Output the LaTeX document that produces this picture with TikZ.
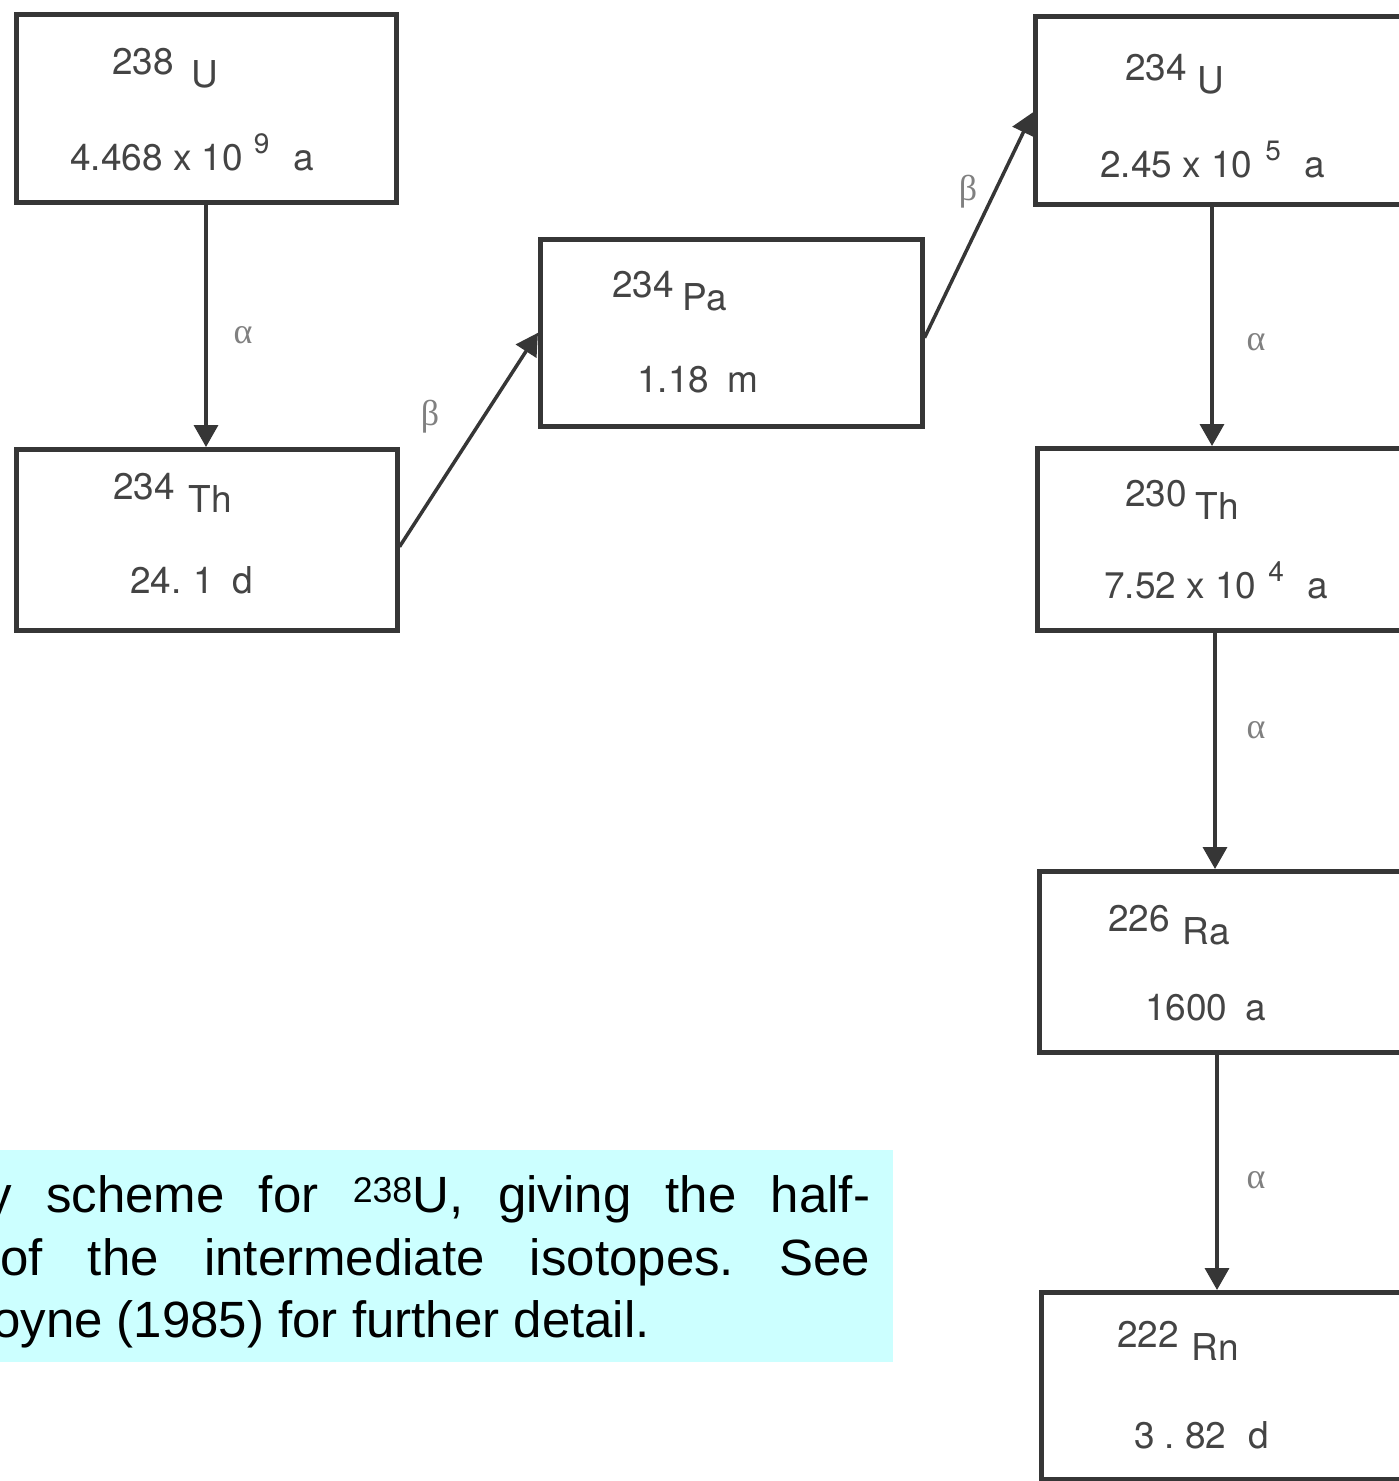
\documentclass[tikz,border=0pt]{standalone}
\usepackage{fontspec}
\setmainfont{TeX Gyre Heros}
\newfontfamily\capfont{Liberation Sans}
\newfontfamily\grkfont{Liberation Serif}
\usetikzlibrary{arrows.meta}
\definecolor{linecol}{HTML}{363636}
\definecolor{txtcol}{HTML}{444444}
\definecolor{lblcol}{HTML}{808080}
\definecolor{capfill}{HTML}{CCFFFF}
\tikzset{
  isobox/.style={draw=linecol, line width=4.5pt, inner sep=0pt, anchor=north west},
  boxtxt/.style={text=txtcol, font=\fontsize{37}{40}\selectfont, inner sep=0pt, anchor=base west},
  decay/.style={draw=linecol, line width=3.5pt, -{Triangle[width=24pt,length=22pt]}},
  declbl/.style={text=lblcol, font=\grkfont\fontsize{36}{38}\selectfont, inner sep=0pt},
  captxt/.style={text=black, font=\capfont\fontsize{51}{55}\selectfont, inner sep=0pt, anchor=base west}
}
\newcommand{\supnum}[1]{\raisebox{17pt}{\fontsize{28}{28}\selectfont #1}}
\newcommand{\subsym}[1]{\raisebox{-13pt}{#1}}
\frenchspacing
\begin{document}
\begin{tikzpicture}[x=1pt,y=-1pt]
\useasboundingbox (0,0) rectangle (1399,1481);
\fill[white] (0,0) rectangle (1399,1481);

% boxes
\node[isobox, minimum width=380pt, minimum height=188pt] (u238) at (14,12) {};
\node[isobox, minimum width=381pt, minimum height=181pt] (th234) at (14,447) {};
\node[isobox, minimum width=382pt, minimum height=187pt] (pa234) at (538,237) {};
\node[isobox, minimum width=420pt, minimum height=188pt] (u234) at (1033,14) {};
\node[isobox, minimum width=420pt, minimum height=182pt] (th230) at (1035,446) {};
\node[isobox, minimum width=420pt, minimum height=181pt] (ra226) at (1037,869) {};
\node[isobox, minimum width=420pt, minimum height=187pt] (rn222) at (1039,1290) {};

% texts
\node[boxtxt] (t1a) at (112,74) {238\hspace{18pt}\subsym{U}};
\node[boxtxt] (t1b) at (70,170) {4.468 x 10\hspace{11pt}\supnum{9}\hspace{24pt}a};
\node[boxtxt] (t2a) at (113,499) {234\hspace{14pt}\subsym{Th}};
\node[boxtxt] (t2b) at (130,593) {24.\hspace{12pt}1\hspace{18pt}d};
\node[boxtxt] (t3a) at (612,297) {234\hspace{9pt}\subsym{Pa}};
\node[boxtxt] (t3b) at (637,392) {1.18\hspace{18pt}m};
\node[boxtxt] (t4a) at (1125,80) {234\hspace{11pt}\subsym{U}};
\node[boxtxt] (t4b) at (1100,177) {2.45 x 10\hspace{13pt}\supnum{5}\hspace{24pt}a};
\node[boxtxt] (t5a) at (1125,506) {230\hspace{9pt}\subsym{Th}};
\node[boxtxt] (t5b) at (1104,598) {7.52 x 10\hspace{12pt}\supnum{4}\hspace{24pt}a};
\node[boxtxt] (t6a) at (1108,931) {226\hspace{13pt}\subsym{Ra}};
\node[boxtxt] (t6b) at (1145,1020) {1600\hspace{18pt}a};
\node[boxtxt] (t7a) at (1117,1347) {222\hspace{13pt}\subsym{Rn}};
\node[boxtxt] (t7b) at (1134,1448) {3\hspace{10pt}.\hspace{10pt}82\hspace{22pt}d};

% connectors
\draw[decay] (206,0 |- u238.south) -- (206,0 |- th234.north);
\draw[decay] ([yshift=-7pt]th234.east) -- (pa234.west);
\draw[decay] ([yshift=-5pt]pa234.east) -- ([yshift=-2pt]u234.west);
\draw[decay] (1212,0 |- u234.south) -- (1212,0 |- th230.north);
\draw[decay] (1215,0 |- th230.south) -- (1215,0 |- ra226.north);
\draw[decay] (1217,0 |- ra226.south) -- (1217,0 |- rn222.north);

% decay labels
\node[declbl] (l1) at (243,335) {α};
\node[declbl] (l2) at (430,417) {β};
\node[declbl] (l3) at (968,192) {β};
\node[declbl] (l4) at (1256,342) {α};
\node[declbl] (l5) at (1256,730) {α};
\node[declbl] (l6) at (1256,1180) {α};

% caption
\node[fill=capfill, inner sep=0pt, minimum width=893pt, minimum height=212pt, anchor=north west] (cap) at (0,1150) {};
\node[captxt] (c1) at (-14,1212) {\makebox[884pt][s]{y scheme for \textsuperscript{238}U, giving the half-}};
\node[captxt] (c2) at (0,1275) {\makebox[870pt][s]{of the intermediate isotopes. See}};
\node[captxt] (c3) at (-8,1337) {oyne (1985) for further detail.};
\end{tikzpicture}
\end{document}
